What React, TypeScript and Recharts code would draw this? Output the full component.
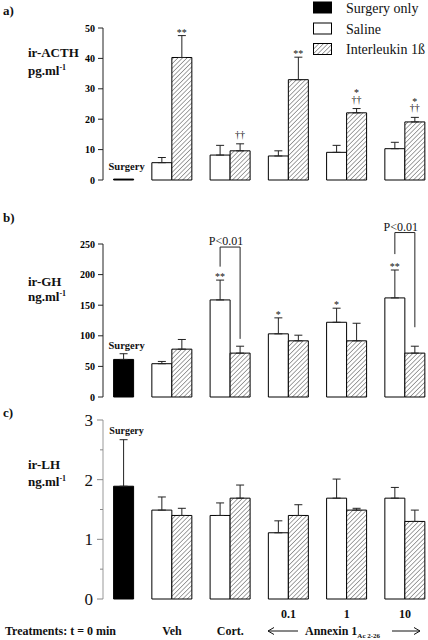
import React from "react";
import { BarChart, Bar, XAxis, YAxis, ErrorBar, LabelList } from "recharts";

type Num = number | null;

const groups = ["Surgery", "Veh", "Cort.", "0.1", "1", "10"];
const doseLabels = ["", "", "", "0.1", "1", "10"];
const treatmentLabels = ["", "Veh", "Cort.", "", "", ""];

// a) ir-ACTH, pg/ml
const acthSurgery: Num[] = [0.3, null, null, null, null, null];
const acthSurgeryErr: Num[] = [null, null, null, null, null, null];
const acthSaline: Num[] = [null, 5.7, 8.2, 7.9, 9.1, 10.3];
const acthSalineErr: Num[] = [null, 1.7, 3.2, 1.7, 2.3, 2.1];
const acthIl: Num[] = [null, 40.3, 9.6, 33.0, 22.1, 19.1];
const acthIlErr: Num[] = [null, 7.2, 2.3, 7.4, 1.4, 1.5];
const acthSalineMarks = ["", "", "", "", "", ""];
const acthIlMarks = ["", "**", "††", "**", "*\n††", "*\n††"];

// b) ir-GH, ng/ml
const ghSurgery: Num[] = [61.4, null, null, null, null, null];
const ghSurgeryErr: Num[] = [9.3, null, null, null, null, null];
const ghSaline: Num[] = [null, 54.4, 158.6, 103.2, 122.1, 161.9];
const ghSalineErr: Num[] = [null, 3.7, 32.4, 26.1, 23.0, 45.6];
const ghIl: Num[] = [null, 78.2, 71.7, 91.8, 91.8, 71.7];
const ghIlErr: Num[] = [null, 15.8, 11.3, 9.2, 28.7, 11.3];
const ghSalineMarks = ["", "", "**", "*", "*", "**"];
const ghIlMarks = ["", "", "", "", "", ""];
// P<0.01 brackets, in ng/ml: bracket top, left leg end, right leg end
const ghBracketTop: Num[] = [null, null, 245, null, null, 268.7];
const ghBracketLeft: Num[] = [null, null, 213, null, null, 233.5];
const ghBracketRight: Num[] = [null, null, 95, null, null, 114];

// c) ir-LH, ng/ml
const lhSurgery: Num[] = [1.89, null, null, null, null, null];
const lhSurgeryErr: Num[] = [0.78, null, null, null, null, null];
const lhSaline: Num[] = [null, 1.49, 1.4, 1.11, 1.69, 1.69];
const lhSalineErr: Num[] = [null, 0.22, 0.21, 0.2, 0.32, 0.18];
const lhIl: Num[] = [null, 1.4, 1.69, 1.4, 1.49, 1.3];
const lhIlErr: Num[] = [null, 0.12, 0.22, 0.18, 0.03, 0.19];
const lhMarks = ["", "", "", "", "", ""];

const acthTicks = [0, 10, 20, 30, 40, 50];
const ghTicks = [0, 50, 100, 150, 200, 250];
const lhTicks = [0, 0.5, 1, 1.5, 2, 2.5, 3];

type Row = {
  group: string;
  surgery: Num;
  surgeryErr: Num;
  saline: Num;
  salineErr: Num;
  il: Num;
  ilErr: Num;
  tag: string;
  salineMark: string;
  ilMark: string;
  pTop: Num;
  pLeft: Num;
  pRight: Num;
};

function buildRows(
  s: Num[], se: Num[], sa: Num[], sae: Num[], il: Num[], ile: Num[],
  saM: string[], ilM: string[], pTop: Num[] = [], pLeft: Num[] = [], pRight: Num[] = []
): Row[] {
  return groups.map((g, i) => ({
    group: g,
    surgery: s[i],
    surgeryErr: se[i],
    saline: sa[i],
    salineErr: sae[i],
    il: il[i],
    ilErr: ile[i],
    tag: s[i] != null ? "Surgery" : "",
    salineMark: saM[i],
    ilMark: ilM[i],
    pTop: pTop[i] ?? null,
    pLeft: pLeft[i] ?? null,
    pRight: pRight[i] ?? null,
  }));
}

const acthRows = buildRows(acthSurgery, acthSurgeryErr, acthSaline, acthSalineErr, acthIl, acthIlErr, acthSalineMarks, acthIlMarks);
const ghRows = buildRows(ghSurgery, ghSurgeryErr, ghSaline, ghSalineErr, ghIl, ghIlErr, ghSalineMarks, ghIlMarks, ghBracketTop, ghBracketLeft, ghBracketRight);
const lhRows = buildRows(lhSurgery, lhSurgeryErr, lhSaline, lhSalineErr, lhIl, lhIlErr, lhMarks, lhMarks);

const SERIF = "'Liberation Serif', 'DejaVu Serif', serif";

// upper half only: [0, err]
const upErr = (key: "salineErr" | "ilErr" | "surgeryErr") => (d: any) =>
  d[key] != null ? [0, d[key]] : null;

function geom(props: any) {
  const vb = props.viewBox && props.viewBox.width != null ? props.viewBox : props;
  return { x: +vb.x, y: +vb.y, width: +vb.width, height: +vb.height };
}

// label value is the group name, so look the row up by it
const findRow = (rows: Row[], props: any) => rows.find((r) => r.group === props.value);

// significance marks, stacked above the error cap
function markLabel(rows: Row[], valueKey: "saline" | "il", errKey: "salineErr" | "ilErr", markKey: "salineMark" | "ilMark") {
  return (props: any) => {
    const row = findRow(rows, props);
    if (!row || !row[markKey]) return null;
    const { x, y, width, height } = geom(props);
    const v = row[valueKey] as number;
    const k = height / v;
    const capY = y + height - (v + (row[errKey] ?? 0)) * k;
    const lines = row[markKey].split("\n");
    const n = lines.length;
    const cx = x + width / 2;
    const baseOf = (t: string, fromBottom: number) => {
      const dagger = t.includes("†");
      const center = capY - (dagger ? 9 : 5) - fromBottom * 12.5;
      return center + (dagger ? 3 : 5);
    };
    return (
      <text textAnchor="middle" fontSize={10} style={{ fill: "#111" }} fontFamily={SERIF}>
        {lines.map((t, i) => (
          <tspan key={i} x={cx} y={baseOf(t, n - 1 - i)}>
            {t}
          </tspan>
        ))}
      </text>
    );
  };
}

function tagLabel(rows: Row[], size: number, gap: number) {
  return (props: any) => {
    const row = findRow(rows, props);
    if (!row || !row.tag) return null;
    const { x, y, width, height } = geom(props);
    const v = row.surgery as number;
    const k = height / v;
    const capY = y + height - (v + (row.surgeryErr ?? 0)) * k;
    return (
      <text x={x + width / 2 + 3} y={capY - gap} textAnchor="middle" fontSize={size} fontWeight="bold" fill="#111" fontFamily={SERIF}>
        {row.tag}
      </text>
    );
  };
}

function bracketLabel(rows: Row[]) {
  return (props: any) => {
    const row = findRow(rows, props);
    if (!row || row.pTop == null || row.pLeft == null || row.pRight == null) return null;
    const { x, y, width, height } = geom(props);
    const k = height / (row.saline as number);
    const base = y + height;
    const yy = (u: number) => base - u * k;
    const xl = x + width / 2;
    const xr = x + width * 1.5;
    const top = yy(row.pTop);
    return (
      <g>
        <polyline
          points={`${xl},${yy(row.pLeft)} ${xl},${top} ${xr},${top} ${xr},${yy(row.pRight)}`}
          fill="none"
          stroke="#222"
          strokeWidth={1}
        />
        <text x={(xl + xr) / 2 - 4} y={top - 2} textAnchor="middle" fontSize={12} fill="#111" fontFamily={SERIF}>
          P&lt;0.01
        </text>
      </g>
    );
  };
}

const LhTick = (props: any) => {
  const { x, y, payload } = props;
  const v = payload.value as number;
  const major = Number.isInteger(v);
  return (
    <g>
      <line x1={x + 9 - (major ? 6 : 3)} x2={x + 9} y1={y} y2={y} stroke="#888" strokeWidth={1} />
      {major && (
        <text x={x - 1} y={y + 6} textAnchor="end" fontSize={17} fill="#111" fontFamily={SERIF}>
          {v}
        </text>
      )}
    </g>
  );
};

const TreatmentTick = (props: any) => {
  const { x, y, index } = props;
  return (
    <g fontFamily={SERIF} fontWeight="bold" fontSize={12} fill="#111">
      {doseLabels[index] && (
        <text x={x} y={y + 19} textAnchor="middle">
          {doseLabels[index]}
        </text>
      )}
      {treatmentLabels[index] && (
        <text x={x} y={y + 36} textAnchor="middle">
          {treatmentLabels[index]}
        </text>
      )}
    </g>
  );
};

const boldTick = { fontSize: 10, fontWeight: 700, fill: "#000", fontFamily: SERIF };

type PanelProps = {
  rows: Row[];
  top: number;
  height: number;
  margin: { top: number; right: number; bottom: number; left: number };
  domain: [number, number];
  ticks: number[];
  lh?: boolean;
  tagSize: number;
  tagGap: number;
};

function Panel({ rows, top, height, margin, domain, ticks, lh, tagSize, tagGap }: PanelProps) {
  return (
    <div style={{ position: "absolute", left: 0, top }}>
      <BarChart width={428} height={height} data={rows} margin={margin} barGap={0} barSize={20}>
        <XAxis
          dataKey="group"
          type="category"
          hide={!lh}
          height={lh ? 41 : 0}
          padding={{ left: -18.4, right: -6.1 }}
          axisLine={false}
          tickLine={false}
          tickSize={0}
          tickMargin={0}
          interval={0}
          tick={lh ? <TreatmentTick /> : false}
        />
        <YAxis
          type="number"
          domain={domain}
          ticks={ticks}
          interval={0}
          width={60}
          axisLine={{ stroke: lh ? "#999" : "#222" }}
          tickLine={lh ? false : { stroke: "#222" }}
          tickSize={lh ? 6 : 5}
          tickMargin={3}
          tick={lh ? <LhTick /> : boldTick}
        />
        <Bar dataKey="saline" stackId="s" fill="#fff" stroke="#000" strokeWidth={1} isAnimationActive={false}>
          <ErrorBar dataKey={upErr("salineErr")} direction="y" width={4} stroke="#222" strokeWidth={1} isAnimationActive={false} />
          <LabelList dataKey="group" content={markLabel(rows, "saline", "salineErr", "salineMark")} />
          <LabelList dataKey="group" content={bracketLabel(rows)} />
        </Bar>
        <Bar dataKey="il" stackId="r" fill="url(#hatch)" stroke="#000" strokeWidth={1} isAnimationActive={false}>
          <ErrorBar dataKey={upErr("ilErr")} direction="y" width={4} stroke="#222" strokeWidth={1} isAnimationActive={false} />
          <LabelList dataKey="group" content={markLabel(rows, "il", "ilErr", "ilMark")} />
        </Bar>
        <Bar dataKey="surgery" stackId="r" fill="#000" stroke="#000" strokeWidth={1} isAnimationActive={false}>
          <ErrorBar dataKey={upErr("surgeryErr")} direction="y" width={4} stroke="#222" strokeWidth={1} isAnimationActive={false} />
          <LabelList dataKey="group" content={tagLabel(rows, tagSize, tagGap)} />
        </Bar>
      </BarChart>
    </div>
  );
}

export default function App() {
  return (
    <div style={{ position: "absolute", left: 0, top: 0, width: 428, height: 640, background: "#fff", fontFamily: SERIF }}>
      <Panel rows={acthRows} top={0} height={190} margin={{ top: 28, right: 0, bottom: 10, left: 43 }} domain={[0, 50]} ticks={acthTicks} tagSize={10.5} tagGap={9} />
      <Panel rows={ghRows} top={200} height={210} margin={{ top: 44, right: 0, bottom: 13, left: 43 }} domain={[0, 250]} ticks={ghTicks} tagSize={10.5} tagGap={5} />
      <Panel rows={lhRows} top={410} height={230} margin={{ top: 10, right: 0, bottom: 0, left: 43 }} domain={[0, 3]} ticks={lhTicks} lh tagSize={10} tagGap={6} />
      <svg width={428} height={640} style={{ position: "absolute", left: 0, top: 0, pointerEvents: "none" }} fontFamily={SERIF} fill="#111">
        <defs>
          <pattern id="hatch" patternUnits="userSpaceOnUse" width={3.2} height={3.2} patternTransform="rotate(45)">
            <rect width={3.2} height={3.2} fill="#fff" />
            <line x1={0} y1={0} x2={0} y2={3.2} stroke="#333" strokeWidth={0.9} />
          </pattern>
        </defs>
        {/* panel letters */}
        <text x={3} y={15} fontSize={13} fontWeight="bold">a)</text>
        <text x={3} y={222} fontSize={13} fontWeight="bold">b)</text>
        <text x={3} y={417} fontSize={13} fontWeight="bold">c)</text>
        {/* axis titles */}
        <g fontSize={13} fontWeight="bold">
          <text x={28} y={57}>ir-ACTH</text>
          <text x={28} y={75}>pg.ml<tspan fontSize={8} dy={-5}>-1</tspan></text>
          <text x={28} y={286}>ir-GH</text>
          <text x={28} y={301}>ng.ml<tspan fontSize={8} dy={-5}>-1</tspan></text>
          <text x={28} y={469}>ir-LH</text>
          <text x={28} y={486}>ng.ml<tspan fontSize={8} dy={-5}>-1</tspan></text>
        </g>
        {/* legend */}
        <rect x={313.5} y={2} width={18} height={11} fill="#000" stroke="#000" />
        <rect x={313.5} y={23} width={18} height={11} fill="#fff" stroke="#000" />
        <rect x={313.5} y={43.5} width={18} height={11} fill="url(#hatch)" stroke="#000" />
        <g fontSize={14}>
          <text x={346} y={13}>Surgery only</text>
          <text x={346} y={34}>Saline</text>
          <text x={346} y={54}>Interleukin 1ß</text>
        </g>
        {/* treatments row */}
        <g fontSize={12} fontWeight="bold">
          <text x={5} y={635}>Treatments: t = 0 min</text>
          <text x={305} y={635}>
            Annexin 1<tspan fontSize={7} dy={3}>Ac 2-26</tspan>
          </text>
        </g>
        <g stroke="#111" strokeWidth={1} fill="none">
          <line x1={268} y1={631} x2={298} y2={631} />
          <polyline points="274,627.5 268,631 274,634.5" />
          <line x1={392} y1={631} x2={420} y2={631} />
          <polyline points="414,627.5 420,631 414,634.5" />
        </g>
      </svg>
    </div>
  );
}
